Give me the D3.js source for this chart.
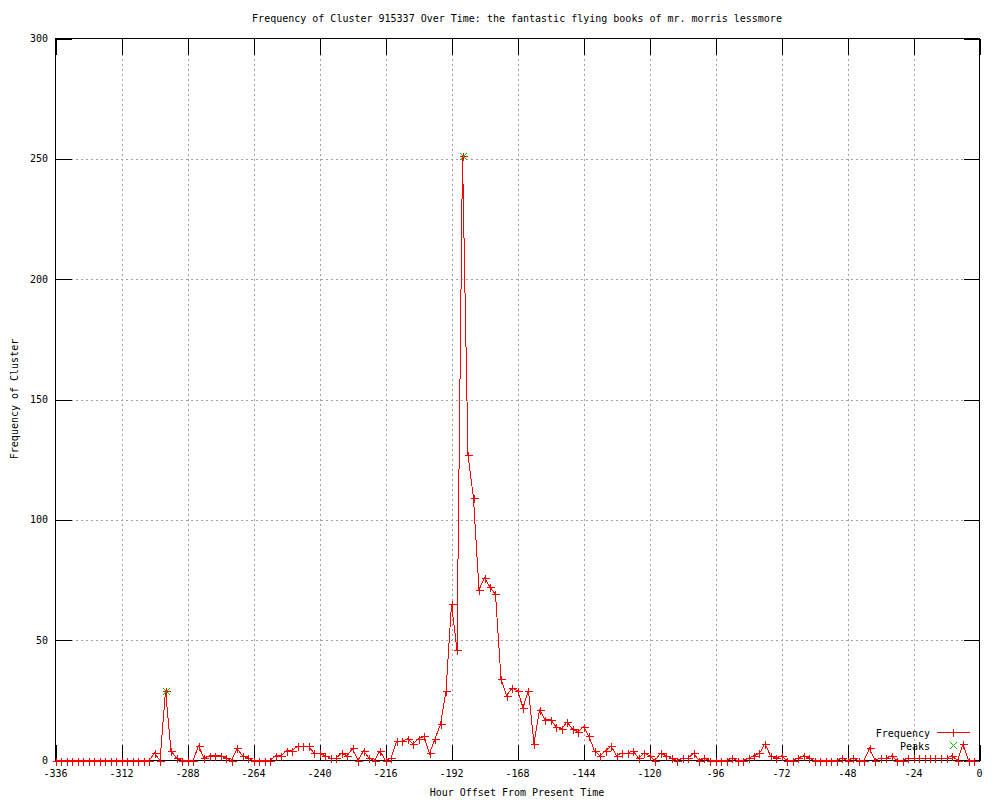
<!DOCTYPE html>
<html>
<head>
<meta charset="utf-8">
<script src="https://cdn.jsdelivr.net/npm/d3@7"></script>
<style>
  body { margin: 0; background: #fff; }
  svg { display: block; }
  text { font-family: "DejaVu Sans Mono", "Liberation Mono", monospace; font-size: 10px; fill: #000; }
</style>
</head>
<body>
<svg width="1000" height="800"></svg>
<script>
'use strict';

// hour offsets, one sample every two hours
const hours = [
    -336, -334, -332, -330, -328, -326, -324, -322, -320, -318, -316, -314, -312, -310, -308, -306, -304, -302,
    -300, -298, -296, -294, -292, -290, -288, -286, -284, -282, -280, -278, -276, -274, -272, -270, -268, -266,
    -264, -262, -260, -258, -256, -254, -252, -250, -248, -246, -244, -242, -240, -238, -236, -234, -232, -230,
    -228, -226, -224, -222, -220, -218, -216, -214, -212, -210, -208, -206, -204, -202, -200, -198, -196, -194,
    -192, -190, -188, -186, -184, -182, -180, -178, -176, -174, -172, -170, -168, -166, -164, -162, -160, -158,
    -156, -154, -152, -150, -148, -146, -144, -142, -140, -138, -136, -134, -132, -130, -128, -126, -124, -122,
    -120, -118, -116, -114, -112, -110, -108, -106, -104, -102, -100, -98, -96, -94, -92, -90, -88, -86,
    -84, -82, -80, -78, -76, -74, -72, -70, -68, -66, -64, -62, -60, -58, -56, -54, -52, -50,
    -48, -46, -44, -42, -40, -38, -36, -34, -32, -30, -28, -26, -24, -22, -20, -18, -16, -14,
    -12, -10, -8, -6, -4, -2
];

const counts = [
    0, 0, 0, 0, 0, 0, 0, 0, 0, 0, 0, 0, 0, 0, 0, 0, 0, 0,
    3, 0, 29, 4, 1, 0, 0, 0, 6, 1, 2, 2, 2, 1, 0, 5, 2, 1,
    0, 0, 0, 0, 2, 2, 4, 4, 6, 6, 6, 3, 3, 2, 1, 1, 3, 2,
    5, 0, 4, 1, 0, 4, 0, 1, 8, 8, 9, 7, 9, 10, 3, 9, 15, 29,
    65, 46, 251, 127, 109, 71, 76, 72, 69, 34, 27, 30, 29, 22, 29, 7, 21, 17,
    17, 14, 13, 16, 13, 12, 14, 10, 4, 2, 4, 6, 2, 3, 3, 4, 1, 3,
    2, 0, 3, 2, 1, 0, 1, 1, 3, 0, 1, 0, 0, 0, 0, 1, 0, 0,
    1, 2, 3, 7, 2, 1, 2, 0, 0, 1, 2, 1, 0, 0, 0, 0, 0, 1,
    0, 1, 0, 0, 5, 0, 1, 1, 2, 0, 0, 1, 1, 1, 1, 1, 1, 1,
    1, 2, 0, 7, 0, 0
];

const peakHours = [-296, -188];
const peakCounts = [29, 251];

const xTicks = [-336, -312, -288, -264, -240, -216, -192, -168, -144, -120, -96, -72, -48, -24, 0];
const yTicks = [0, 50, 100, 150, 200, 250, 300];

const titleText = "Frequency of Cluster 915337 Over Time: the fantastic flying books of mr. morris lessmore";
const xLabel = "Hour Offset From Present Time";
const yLabel = "Frequency of Cluster";
const seriesNames = ["Frequency", "Peaks"];

const run = () => {
    const svg = d3.select("svg");
    const left = 55.5, right = 979.5, top = 38.5, bottom = 760.5, tick = 16;

    const x = d3.scaleLinear().domain([-336, 0]).range([left, right]);
    const y = d3.scaleLinear().domain([0, 300]).range([bottom, top]);

    const data = hours.map((h, i) => ({ h, v: counts[i] }));
    const peaks = peakHours.map((h, i) => ({ h, v: peakCounts[i] }));

    // grid
    const grid = svg.append("g")
        .attr("stroke", "#a0a0a0")
        .attr("stroke-dasharray", "2,3")
        .attr("shape-rendering", "crispEdges");
    grid.selectAll(".gx").data(xTicks.slice(1, -1)).join("line")
        .attr("x1", d => Math.round(x(d)) + 0.5).attr("x2", d => Math.round(x(d)) + 0.5)
        .attr("y1", top).attr("y2", bottom);
    grid.selectAll(".gy").data(yTicks.slice(1, -1)).join("line")
        .attr("y1", d => Math.round(y(d)) + 0.5).attr("y2", d => Math.round(y(d)) + 0.5)
        .attr("x1", left).attr("x2", right);

    // tick marks on all four sides, pointing inward
    const ticks = svg.append("g").attr("stroke", "#000").attr("shape-rendering", "crispEdges");
    xTicks.forEach(t => {
        const px = Math.round(x(t)) + 0.5;
        ticks.append("line").attr("x1", px).attr("x2", px).attr("y1", bottom).attr("y2", bottom - tick);
        ticks.append("line").attr("x1", px).attr("x2", px).attr("y1", top).attr("y2", top + tick);
    });
    yTicks.forEach(t => {
        const py = Math.round(y(t)) + 0.5;
        ticks.append("line").attr("y1", py).attr("y2", py).attr("x1", left).attr("x2", left + tick);
        ticks.append("line").attr("y1", py).attr("y2", py).attr("x1", right).attr("x2", right - tick);
    });

    svg.append("rect")
        .attr("x", left).attr("y", top)
        .attr("width", right - left).attr("height", bottom - top)
        .attr("fill", "none").attr("stroke", "#000")
        .attr("shape-rendering", "crispEdges");

    // tick labels
    svg.append("g").selectAll("text").data(xTicks).join("text")
        .attr("x", d => x(d)).attr("y", 777)
        .attr("text-anchor", "middle")
        .text(d => d);
    svg.append("g").selectAll("text").data(yTicks).join("text")
        .attr("x", 48).attr("y", d => y(d) + 3.5)
        .attr("text-anchor", "end")
        .text(d => d);

    // titles
    svg.append("text").attr("x", 517).attr("y", 22).attr("text-anchor", "middle").text(titleText);
    svg.append("text").attr("x", 517).attr("y", 796).attr("text-anchor", "middle").text(xLabel);
    svg.append("text")
        .attr("transform", "translate(17.5,399) rotate(-90)")
        .attr("text-anchor", "middle")
        .text(yLabel);

    // frequency line + markers (aliased, like the gnuplot png)
    const line = d3.line().x(d => x(d.h)).y(d => y(d.v));
    svg.append("path").datum(data)
        .attr("fill", "none").attr("stroke", "#ff0000").attr("stroke-width", 1)
        .attr("shape-rendering", "crispEdges")
        .attr("d", line);

    const plus = (g, cx, cy, s, color) => {
        g.append("path")
            .attr("d", `M${cx - s},${cy}H${cx + s}M${cx},${cy - s}V${cy + s}`)
            .attr("stroke", color).attr("fill", "none");
    };
    const cross = (g, cx, cy, s, color) => {
        g.append("path")
            .attr("d", `M${cx - s},${cy - s}L${cx + s},${cy + s}M${cx - s},${cy + s}L${cx + s},${cy - s}`)
            .attr("stroke", color).attr("fill", "none");
    };

    const marks = svg.append("g").attr("shape-rendering", "crispEdges");
    data.forEach(d => plus(marks, Math.round(x(d.h)) + 0.5, Math.round(y(d.v)) + 0.5, 4, "#ff0000"));

    const peakg = svg.append("g").attr("shape-rendering", "crispEdges");
    peaks.forEach(d => cross(peakg, Math.round(x(d.h)) + 0.5, Math.round(y(d.v)) + 0.5, 3.5, "#00c000"));

    // legend
    const lg = svg.append("g").attr("shape-rendering", "crispEdges");
    lg.append("text").attr("x", 930).attr("y", 736.5).attr("text-anchor", "end").text(seriesNames[0]);
    lg.append("line").attr("x1", 937).attr("x2", 970).attr("y1", 732.5).attr("y2", 732.5)
        .attr("stroke", "#ff0000");
    plus(lg, 953.5, 732.5, 4, "#ff0000");
    lg.append("text").attr("x", 930).attr("y", 749.5).attr("text-anchor", "end").text(seriesNames[1]);
    cross(lg, 953.5, 745.5, 3.5, "#00c000");
};

run();
</script>
</body>
</html>
